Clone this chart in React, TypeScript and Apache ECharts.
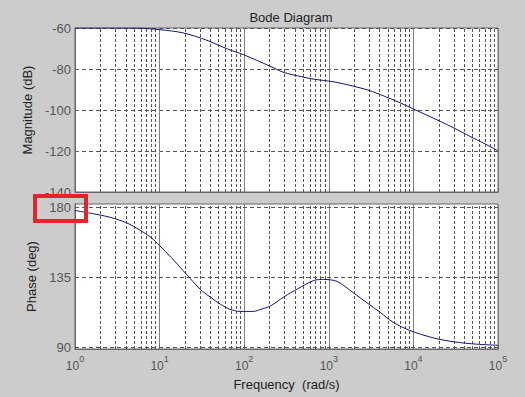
import React, { useEffect, useRef } from "react";
import * as echarts from "echarts";

// Frequencies (rad/s) and values
const magFreq = [1, 3.16, 5.89, 10, 19.1, 36.3, 63.1, 97.7, 141, 204, 295, 457, 631, 871, 1122, 1479, 2042, 2818, 4074, 7079, 10000, 20893, 30200, 46774, 70795, 100000];
const magDb = [-60, -60, -60.1, -60.8, -62.4, -66, -70.2, -73, -75.8, -78.7, -81.7, -83.6, -84.8, -85.6, -86.2, -87.2, -88.6, -90.1, -92.5, -96.6, -99.5, -105.6, -108.8, -112.9, -116.6, -119.9];

const phaseFreq = [1, 1.45, 2.57, 4.07, 5.89, 7.94, 10, 13.8, 19.1, 30.2, 39.8, 52.5, 67.6, 89.1, 129, 158, 204, 295, 427, 661, 871, 1259, 1950, 2818, 4074, 5754, 9120, 17378, 30200, 56234, 100000];
const phaseDeg = [178.2, 176.7, 173.9, 170.3, 165.5, 160.8, 155.6, 147.8, 139.3, 127.5, 122.4, 117.8, 114.6, 113.2, 113.2, 114.6, 116.7, 122.6, 127.7, 133.1, 133.8, 132.5, 125.2, 118.8, 112.5, 106.2, 100.9, 96.1, 93.6, 92.1, 91.4];

const decades = [1, 10, 100, 1000, 10000];
const minorMultipliers = [2, 3, 4, 5, 6, 7, 8, 9];
const phaseTicks = [90, 135, 180];

const FONT = "Liberation Sans, Arial, sans-serif";
const LABEL_COLOR = "#555";
const GRID_COLOR = "#555";

export default function App() {
  const ref = useRef<HTMLDivElement>(null);

  useEffect(() => {
    if (!ref.current) return;
    const chart = echarts.init(ref.current, null, { renderer: "svg" });

    const minorLines = [];
    decades.forEach((d) => minorMultipliers.forEach((m) => minorLines.push({ xAxis: d * m })));

    const vLineStyle = { color: GRID_COLOR, type: [3, 2], width: 1 };

    const option = {
      animation: false,
      backgroundColor: "#cccccc",
      title: {
        text: "Bode Diagram",
        left: 286,
        top: 6,
        textAlign: "center",
        textStyle: { fontFamily: FONT, fontSize: 13, fontWeight: "normal", color: "#222" },
      },
      grid: [
        { left: 75, top: 28, width: 423, height: 164, show: true, backgroundColor: "#ffffff", borderColor: "#666", borderWidth: 1 },
        { left: 75, top: 204, width: 423, height: 145, show: true, backgroundColor: "#ffffff", borderColor: "#666", borderWidth: 1 },
      ],
      xAxis: [
        {
          type: "log",
          logBase: 10,
          gridIndex: 0,
          min: 1,
          max: 100000,
          axisLine: { show: true, lineStyle: { color: "#666" } },
          axisTick: { show: true, inside: true, length: 4, lineStyle: { color: "#666" } },
          axisLabel: { show: false },
          splitLine: { show: true, lineStyle: { color: "#808080", width: 1 } },
        },
        {
          type: "log",
          logBase: 10,
          gridIndex: 1,
          min: 1,
          max: 100000,
          name: "Frequency  (rad/s)",
          nameLocation: "middle",
          nameGap: 29,
          nameTextStyle: { fontFamily: FONT, fontSize: 13, color: "#222" },
          axisLine: { show: true, lineStyle: { color: "#666" } },
          axisTick: { show: true, inside: true, length: 4, lineStyle: { color: "#666" } },
          axisLabel: {
            margin: 5,
            formatter: (v: number) => `{b|10}{e|${Math.round(Math.log10(v))}}`,
            rich: {
              b: { fontFamily: FONT, fontSize: 12, color: LABEL_COLOR, lineHeight: 24 },
              e: { fontFamily: FONT, fontSize: 9, color: LABEL_COLOR, lineHeight: 10, verticalAlign: "top" },
            },
          },
          splitLine: { show: true, lineStyle: { color: "#808080", width: 1 } },
        },
      ],
      yAxis: [
        {
          type: "value",
          gridIndex: 0,
          min: -140,
          max: -60,
          interval: 20,
          name: "Magnitude (dB)",
          nameLocation: "middle",
          nameGap: 36,
          nameRotate: 90,
          nameTextStyle: { fontFamily: FONT, fontSize: 13, color: "#222" },
          axisLine: { show: true, lineStyle: { color: "#666" } },
          axisTick: { show: true, inside: true, length: 4, lineStyle: { color: "#666" } },
          axisLabel: { margin: 4, fontFamily: FONT, fontSize: 13, color: LABEL_COLOR },
          splitLine: { show: true, lineStyle: { color: GRID_COLOR, type: [4, 3], width: 1 } },
        },
        {
          type: "value",
          gridIndex: 1,
          min: 89,
          max: 182.4,
          name: "Phase (deg)",
          nameLocation: "middle",
          nameGap: 33,
          nameRotate: 90,
          nameTextStyle: { fontFamily: FONT, fontSize: 13, color: "#222" },
          axisLine: { show: true, lineStyle: { color: "#666" } },
          axisTick: { show: true, inside: true, length: 4, customValues: phaseTicks, lineStyle: { color: "#666" } },
          axisLabel: { margin: 4, fontFamily: FONT, fontSize: 13, color: LABEL_COLOR, customValues: phaseTicks },
          splitLine: { show: false },
        },
      ],
      series: [
        {
          type: "line",
          xAxisIndex: 0,
          yAxisIndex: 0,
          data: magFreq.map((f, i) => [f, magDb[i]]),
          showSymbol: false,
          smooth: 0.3,
          lineStyle: { color: "#14146e", width: 1 },
          z: 5,
          markLine: {
            silent: true,
            symbol: "none",
            label: { show: false },
            lineStyle: vLineStyle,
            data: minorLines,
            z: 2,
          },
        },
        {
          type: "line",
          xAxisIndex: 1,
          yAxisIndex: 1,
          data: phaseFreq.map((f, i) => [f, phaseDeg[i]]),
          showSymbol: false,
          smooth: 0.3,
          lineStyle: { color: "#14146e", width: 1 },
          z: 5,
          markLine: {
            silent: true,
            symbol: "none",
            label: { show: false },
            lineStyle: vLineStyle,
            data: [
              ...minorLines,
              ...phaseTicks.map((t) => ({ yAxis: t, lineStyle: { color: GRID_COLOR, type: [4, 3], width: 1 } })),
            ],
            z: 2,
          },
        },
      ],
      graphic: [
        {
          type: "rect",
          shape: { x: 35, y: 196, width: 51, height: 25 },
          style: { fill: "none", stroke: "#e4232a", lineWidth: 4 },
          z: 100,
        },
      ],
    };

    chart.setOption(option as any);
    return () => chart.dispose();
  }, []);

  return (
    <div
      ref={ref}
      style={{ position: "fixed", left: 0, top: 0, width: 525, height: 397 }}
    />
  );
}
